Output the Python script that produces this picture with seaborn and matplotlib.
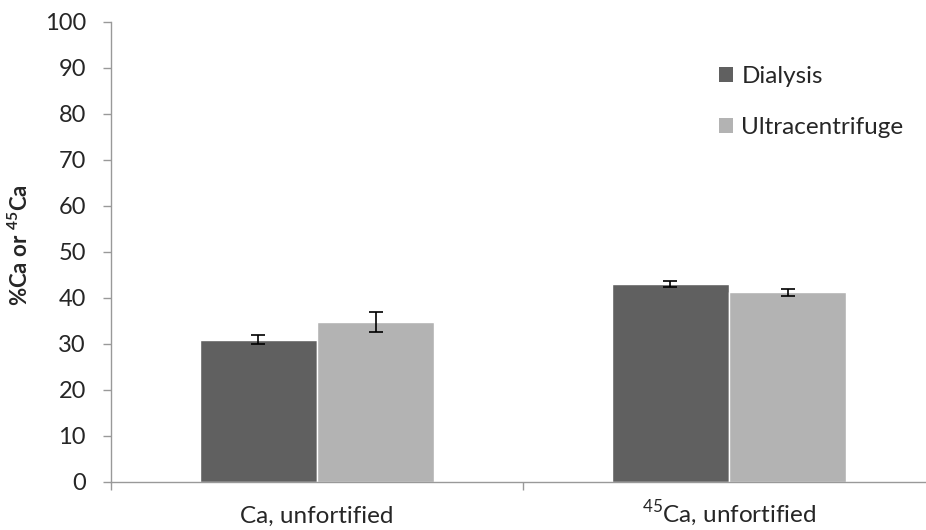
import matplotlib
matplotlib.use("Agg")
import matplotlib.pyplot as plt
import seaborn as sns
import pandas as pd
import numpy as np
from matplotlib.patches import Patch

categories = ["Ca, unfortified", "$^{45}$Ca, unfortified"]
methods = ["Dialysis", "Ultracentrifuge"]
dialysis = [30.9, 43.1]
ultracentrifuge = [34.8, 41.2]
dialysis_err = [1.0, 0.6]
ultracentrifuge_err = [2.2, 0.8]
colors = ["#606060", "#b3b3b3"]
y_label = r"%Ca or $^{\mathbf{45}}$Ca"

sns.set_style("white")
plt.rcParams['font.family'] = ['Lato', 'DejaVu Sans']
plt.rcParams['mathtext.fontset'] = 'custom'
plt.rcParams['mathtext.rm'] = 'Lato'
plt.rcParams['mathtext.bf'] = 'Lato:bold'

FS = 17.5

df = pd.DataFrame({
    "category": categories * 2,
    "method": [methods[0]] * 2 + [methods[1]] * 2,
    "value": dialysis + ultracentrifuge,
})

fig = plt.figure(figsize=(9.26, 5.30), dpi=100)
ax = fig.add_axes([111/926, 48/530, (935-111)/926, (482-22)/530])
sns.barplot(data=df, x="category", y="value", hue="method", order=categories,
            hue_order=methods, palette=colors, width=0.57, ax=ax,
            edgecolor="white", linewidth=1.0, legend=False, saturation=1)

errs = {methods[0]: dialysis_err, methods[1]: ultracentrifuge_err}
vals = {methods[0]: dialysis, methods[1]: ultracentrifuge}
for i, m in enumerate(methods):
    cont = ax.containers[i]
    xs = [p.get_x() + p.get_width() / 2 for p in cont.patches]
    ax.errorbar(xs, vals[m], yerr=errs[m], fmt="none", ecolor="black",
                elinewidth=1.2, capsize=5, capthick=1.2)

ax.set_xlim(-0.5, 1.5)
ax.set_ylim(0, 100)
ax.set_yticks(np.arange(0, 101, 10))
ax.tick_params(axis="y", labelsize=17, length=6, width=1, color="#999999", pad=12, left=True)
ax.set_xticks([0, 1])
ax.set_xticklabels(categories, fontsize=FS)
for lbl in ax.get_xticklabels():
    lbl.set_verticalalignment("baseline")
ax.tick_params(axis="x", which="major", length=0, pad=29.5)
ax.set_xticks([-0.5, 0.5, 1.5], minor=True)
ax.tick_params(axis="x", which="minor", length=6, width=1, color="#999999", bottom=True)
for s in ["top", "right"]:
    ax.spines[s].set_visible(False)
for s in ["left", "bottom"]:
    ax.spines[s].set_color("#999999")
    ax.spines[s].set_linewidth(1)
ax.set_xlabel("")
ax.set_ylabel("")
fig.text(20/926, 1 - 245/530, y_label, rotation=90, ha="center", va="center",
         fontsize=16, fontweight="bold")

handles = [Patch(facecolor=c, edgecolor="none") for c in colors]
fig.legend(handles, methods, loc="upper left", bbox_to_anchor=(719/926, 1 - 66/530),
           frameon=False, fontsize=FS, handlelength=0.58, handleheight=0.58,
           handletextpad=0.34, labelspacing=1.22, borderpad=0, borderaxespad=0)

fig.savefig("out.png", dpi=100)
